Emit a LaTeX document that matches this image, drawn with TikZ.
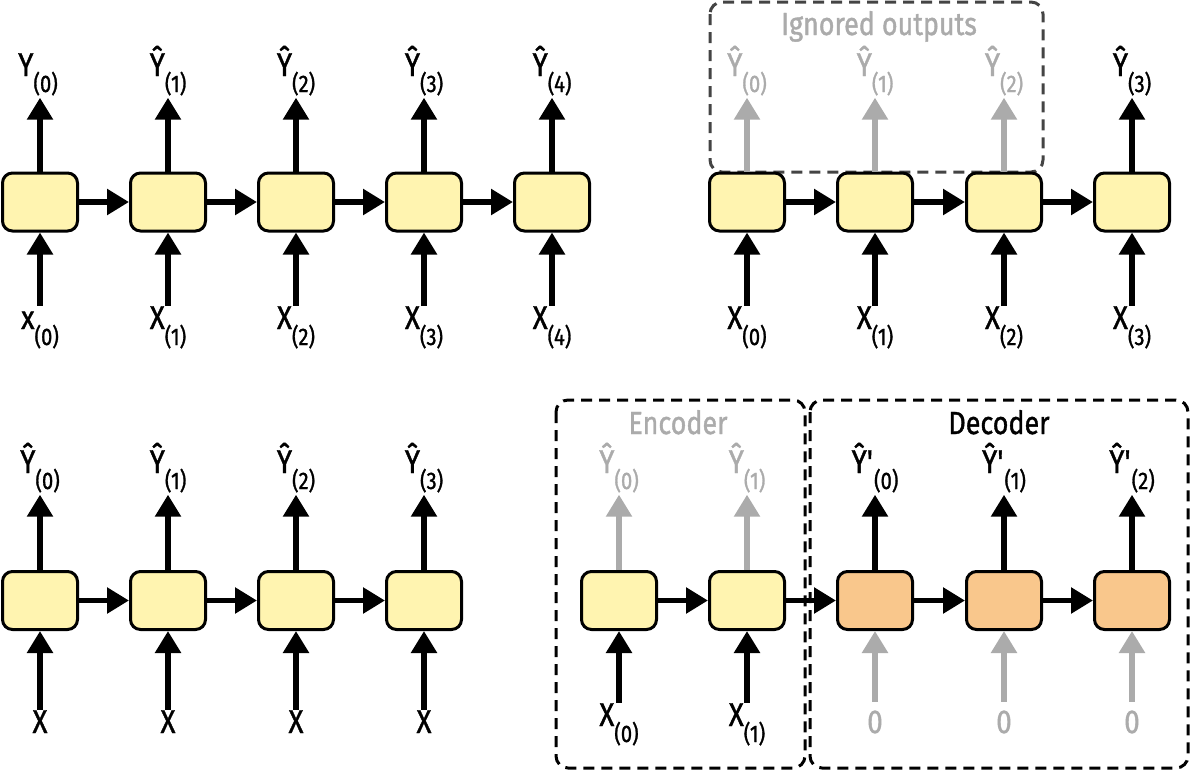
\documentclass[tikz,border=0pt]{standalone}
\usepackage{fontspec}
\setmainfont{Fira Sans}[FakeStretch=0.84, FakeBold=1.2]
\usetikzlibrary{arrows.meta}
\definecolor{cellY}{HTML}{FFF4B0}
\definecolor{cellO}{HTML}{F9C78C}
\definecolor{ghost}{HTML}{ABABAB}
\definecolor{dashgray}{HTML}{444444}
\newcommand\sub[2]{#1\raisebox{-16pt}{\fontsize{24pt}{26pt}\selectfont #2}}
\begin{document}
\begin{tikzpicture}[x=1pt,y=-1pt,
  cell/.style={draw=black, line width=3pt, rounded corners=10pt, minimum width=75pt, minimum height=58pt, inner sep=0pt, fill=cellY},
  deccell/.style={cell, fill=cellO},
  arr/.style={line width=5.5pt, -{Triangle[width=25pt,length=22pt]}},
  garr/.style={arr, draw=ghost},
  lbl/.style={inner sep=0pt, anchor=base, font=\fontsize{33pt}{35pt}\selectfont},
  inlbl/.style={lbl, text height=23pt},
  glbl/.style={lbl, text=ghost},
  ginlbl/.style={inlbl, text=ghost},
  dashbox/.style={line width=3pt, dash pattern=on 11pt off 7pt, rounded corners=12pt},
]
\useasboundingbox (0,0) rectangle (1190,772);

% dashed groups
\draw[dashbox, draw=dashgray] (710,2) rectangle (1043,172);
\draw[dashbox, draw=black] (556,400) rectangle (805,768);
\draw[dashbox, draw=black] (810,400) rectangle (1188,768);
\node[lbl, text=ghost, font=\fontsize{32pt}{34pt}\selectfont] (ign) at (879,35) {Ignored outputs};
\node[lbl, text=ghost, font=\fontsize{32pt}{34pt}\selectfont] (enc) at (678,434) {Encoder};
\node[lbl, font=\fontsize{32pt}{34pt}\selectfont] (dec) at (999,434) {Decoder};

% ---------- panel A (top-left)
\foreach \i/\x in {0/40,1/168,2/296,3/424,4/552}{
  \node[cell] (a\i) at (\x,202) {};
}
\node[lbl] (ao0) at (38,76) {\sub{Y}{(0)}};
\node[inlbl] (ai0) at (40,329) {\sub{x}{(0)}};
\foreach \i/\x in {1/168,2/296,3/424,4/552}{
  \node[lbl] (ao\i) at (\x,76) {\sub{Ŷ}{(\i)}};
  \node[inlbl] (ai\i) at (\x,329) {\sub{X}{(\i)}};
}
\foreach \i in {0,...,4}{
  \draw[arr, shorten >=2pt] (a\i.north) -- (a\i.north |- ao\i.south);
  \draw[arr] (a\i.south |- ai\i.north) -- (a\i.south);
}
\foreach \i/\j in {0/1,1/2,2/3,3/4} \draw[arr] (a\i) -- (a\j);

% ---------- panel B (top-right)
\foreach \i/\x in {0/747,1/875,2/1004,3/1132}{
  \node[cell] (b\i) at (\x,202) {};
  \node[inlbl] (bi\i) at (\x,329) {\sub{X}{(\i)}};
}
\foreach \i/\x in {0/747,1/875,2/1004}{
  \node[glbl] (bo\i) at (\x,76) {\sub{Ŷ}{(\i)}};
  \draw[garr, shorten >=2pt] (b\i.north) -- (b\i.north |- bo\i.south);
}
\node[lbl] (bo3) at (1132,76) {\sub{Ŷ}{(3)}};
\draw[arr, shorten >=2pt] (b3.north) -- (b3.north |- bo3.south);
\foreach \i in {0,...,3} \draw[arr] (b\i.south |- bi\i.north) -- (b\i.south);
\foreach \i/\j in {0/1,1/2,2/3} \draw[arr] (b\i) -- (b\j);

% ---------- panel C (bottom-left)
\foreach \i/\x in {0/40,1/168,2/296,3/424}{
  \node[cell] (c\i) at (\x,600.5) {};
  \node[lbl] (co\i) at (\x,473) {\sub{Ŷ}{(\i)}};
  \node[inlbl] (ci\i) at (\x,733) {X};
  \draw[arr, shorten >=2pt] (c\i.north) -- (c\i.north |- co\i.south);
  \draw[arr] (c\i.south |- ci\i.north) -- (c\i.south);
}
\foreach \i/\j in {0/1,1/2,2/3} \draw[arr] (c\i) -- (c\j);

% ---------- panel D (bottom-right)
\foreach \i/\x in {0/619,1/747}{
  \node[cell] (d\i) at (\x,600.5) {};
  \node[glbl] (do\i) at (\x,473) {\sub{Ŷ}{(\i)}};
  \node[inlbl] (di\i) at (\x,726) {\sub{X}{(\i)}};
  \draw[garr, shorten >=2pt] (d\i.north) -- (d\i.north |- do\i.south);
  \draw[arr] (d\i.south |- di\i.north) -- (d\i.south);
}
\foreach \i/\x in {0/875,1/1004,2/1132}{
  \node[deccell] (e\i) at (\x,600.5) {};
  \node[lbl] (eo\i) at (\x,473) {\sub{Ŷ\textquotesingle}{(\i)}};
  \node[ginlbl] (ei\i) at (\x,733) {0};
  \draw[arr, shorten >=2pt] (e\i.north) -- (e\i.north |- eo\i.south);
  \draw[garr, shorten <=8pt] (e\i.south |- ei\i.north) -- (e\i.south);
}
\draw[arr] (d0) -- (d1);
\draw[arr] (d1) -- (e0);
\draw[arr] (e0) -- (e1);
\draw[arr] (e1) -- (e2);
\end{tikzpicture}
\end{document}
